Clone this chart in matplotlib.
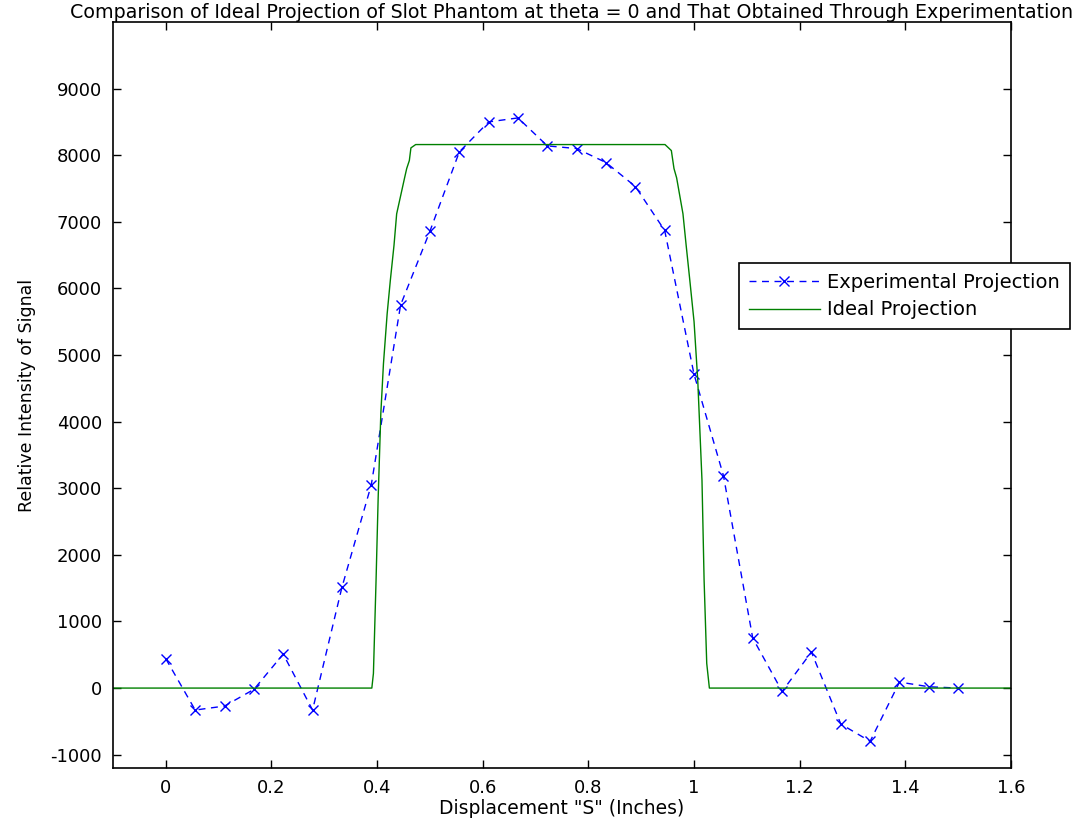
import numpy as np
import matplotlib
matplotlib.use("Agg")
import matplotlib.pyplot as plt

plt.rcParams['font.family'] = ['DejaVu Sans']
plt.rcParams['axes.unicode_minus'] = False

# --- Experimental projection (sampled every 1/18 inch) ---
exp_x = [0.0, 0.0556, 0.1111, 0.1667, 0.2222, 0.2778, 0.3333, 0.3889, 0.4444, 0.5,
         0.5556, 0.6111, 0.6667, 0.7222, 0.7778, 0.8333, 0.8889, 0.9444, 1.0, 1.0556,
         1.1111, 1.1667, 1.2222, 1.2778, 1.3333, 1.3889, 1.4444, 1.5]
exp_y = [440, -330, -270, -20, 510, -330, 1510, 3050, 5750, 6860,
         8050, 8500, 8560, 8140, 8100, 7890, 7530, 6870, 4710, 3190,
         750, -50, 540, -540, -800, 90, 20, 0]

# --- Ideal projection (smoothed slot profile) ---
ideal_x = [-0.1, 0.39, 0.393, 0.398, 0.402, 0.407, 0.412, 0.419, 0.425, 0.432,
           0.437, 0.452, 0.456, 0.461, 0.464, 0.473, 0.945, 0.957, 0.962, 0.967,
           0.979, 0.985, 0.992, 1.0, 1.007, 1.015, 1.019, 1.024, 1.029, 1.6]
ideal_y = [0, 0, 220, 1620, 2860, 4120, 4870, 5620, 6120, 6650,
           7120, 7660, 7800, 7920, 8110, 8160, 8160, 8070, 7800, 7660,
           7120, 6650, 6120, 5500, 4620, 3120, 1620, 370, 0, 0]

x_ticks = [0, 0.2, 0.4, 0.6, 0.8, 1.0, 1.2, 1.4, 1.6]
x_tick_labels = ['0', '0.2', '0.4', '0.6', '0.8', '1', '1.2', '1.4', '1.6']
y_ticks = [-1000, 0, 1000, 2000, 3000, 4000, 5000, 6000, 7000, 8000, 9000]

fig = plt.figure(figsize=(10.86, 8.25), dpi=100)
ax = fig.add_axes([113 / 1086, 57 / 825, 898 / 1086, 746 / 825])

ax.plot(exp_x, exp_y, color='blue', linestyle='--', marker='x', markersize=7,
        linewidth=1, dashes=(5, 4), label='Experimental Projection')
ax.plot(ideal_x, ideal_y, color=(0, 0.5, 0), linewidth=1, label='Ideal Projection')

ax.set_xlim(-0.1, 1.6)
ax.set_ylim(-1200, 10000)
ax.set_xticks(x_ticks)
ax.set_xticklabels(x_tick_labels)
ax.set_yticks(y_ticks)
ax.tick_params(direction='in', length=6, width=1, top=True, right=True,
               labelsize=13, pad=8)
for s in ax.spines.values():
    s.set_linewidth(1.2)

ax.set_xlabel('Displacement "S" (Inches)', fontsize=13.5, labelpad=1)
ax.set_ylabel('Relative Intensity of Signal', fontsize=12.5, labelpad=10)
fig.text(572 / 1086, 1 - 13 / 825,
         'Comparison of Ideal Projection of Slot Phantom at theta = 0 '
         'and That Obtained Through Experimentation',
         fontsize=13.7, ha='center', va='center')

leg = ax.legend(loc='upper left', bbox_to_anchor=(739 / 1086, 1 - 263 / 825),
                bbox_transform=fig.transFigure, borderaxespad=0, fontsize=14,
                handlelength=3.65, handletextpad=0.38, fancybox=False,
                edgecolor='black', framealpha=1, labelspacing=0.45, borderpad=0.5)
leg.get_frame().set_linewidth(1.2)

fig.savefig('out.png', dpi=100)
